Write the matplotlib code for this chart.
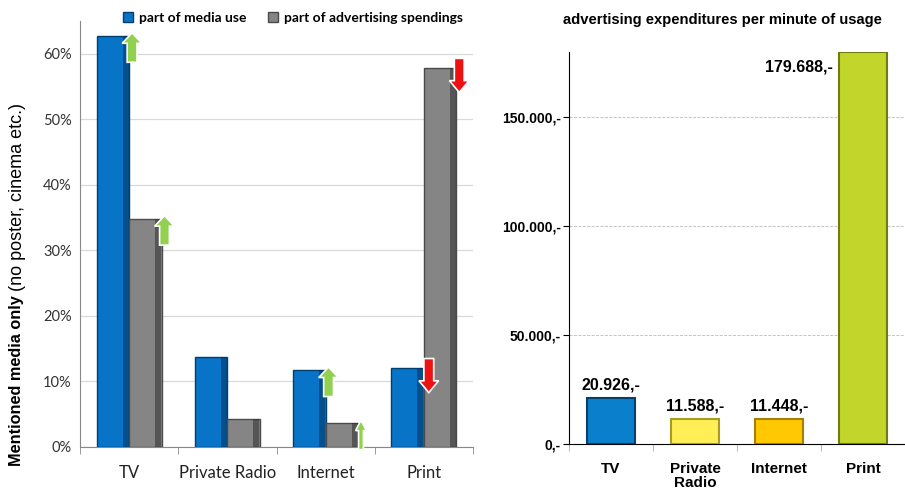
import numpy as np
import matplotlib
matplotlib.use("Agg")
import matplotlib.pyplot as plt
from matplotlib.patches import FancyArrow, Patch

# ---- data -------------------------------------------------------------
media = ["TV", "Private Radio", "Internet", "Print"]
media_use = [0.627, 0.138, 0.117, 0.120]        # part of media use
ad_spend = [0.348, 0.042, 0.036, 0.578]         # part of advertising spendings

# trend arrows: (category, series, direction)
trends = [(0, "use", "up"), (0, "spend", "up"), (2, "use", "up"),
          (2, "spend", "up"), (3, "use", "down"), (3, "spend", "down")]

media_right = ["TV", "Private\nRadio", "Internet", "Print"]
per_minute = [20926, 11588, 11448, 179688]
per_minute_labels = ["20.926,-", "11.588,-", "11.448,-", "179.688,-"]
right_ticks = [0, 50000, 100000, 150000]
right_tick_labels = ["0,-", "50.000,-", "100.000,-", "150.000,-"]

blue = "#0874C8"
gray = "#858585"
right_colors = ["#0A80CC", "#FFEE55", "#FFC800", "#C2D52A"]
right_edges = ["#04406A", "#A99A20", "#A67F00", "#6F7B12"]

lfont = ["Lato", "DejaVu Sans"]
rfont = ["Liberation Sans", "DejaVu Sans"]

fig = plt.figure(figsize=(9.05, 4.88), dpi=100)

# ---- left chart -------------------------------------------------------
ax = fig.add_axes([80 / 905, 1 - 447 / 488, 393 / 905, 426 / 488])
x = np.arange(len(media))
w = 0.33
ax.bar(x - w / 2, media_use, w, color=blue, edgecolor="#033E70", linewidth=1.0, zorder=3)
ax.bar(x + w / 2, ad_spend, w, color=gray, edgecolor="#4A4A4A", linewidth=1.0, zorder=3)
# darker right side to hint at the bevelled bars
sh = 0.06
ax.bar(x - sh / 2 - 0.005, media_use, sh, color="#02335E", alpha=0.55, linewidth=0, zorder=4)
ax.bar(x + w - sh / 2 - 0.005, ad_spend, sh, color="#2E2E2E", alpha=0.55, linewidth=0, zorder=4)

ax.set_xlim(-0.5, 3.5)
ax.set_ylim(0, 0.65)
ax.set_yticks(np.arange(0, 0.61, 0.1))
ax.set_yticklabels([f"{int(round(v * 100))}%" for v in np.arange(0, 0.61, 0.1)],
                   family=lfont, fontsize=10.5, color="#333333")
ax.set_xticks(x)
ax.set_xticklabels(media, family=lfont, fontsize=12, color="#222222")
ax.set_xticks(np.arange(-0.5, 3.6, 1), minor=True)
ax.tick_params(axis="x", which="major", length=0, pad=13)
ax.tick_params(axis="x", which="minor", length=5, color="#888888")
ax.tick_params(axis="y", length=0, pad=6)
ax.grid(axis="y", color="#D9D9D9", linewidth=0.9, zorder=0)
for s in ["top", "right"]:
    ax.spines[s].set_visible(False)
ax.spines["left"].set_color("#888888")
ax.spines["bottom"].set_color("#888888")

for cat, series, direction in trends:
    if series == "use":
        val = media_use[cat]
        xc = cat + (0.03 if direction == "up" else 0.05)
    else:
        val = ad_spend[cat]
        xc = cat + 0.36
    narrow = (cat == 2 and series == "spend")
    sw = 0.05 if narrow else 0.1
    hw = 0.11 if narrow else 0.2
    if direction == "up":
        top = val + 0.005
        length = 0.045
        arr = FancyArrow(xc, top - length, 0, length, width=sw, head_width=hw,
                         head_length=0.016, length_includes_head=True,
                         facecolor="#92D050", edgecolor="white", linewidth=1.2,
                         zorder=5, clip_on=False)
    else:
        start = val + 0.015
        length = 0.052
        arr = FancyArrow(xc, start, 0, -length, width=sw, head_width=hw,
                         head_length=0.018, length_includes_head=True,
                         facecolor="#EE1111", edgecolor="white", linewidth=1.2,
                         zorder=5, clip_on=False)
    ax.add_patch(arr)

handles = [Patch(facecolor=blue, edgecolor="#033E70"),
           Patch(facecolor=gray, edgecolor="#4A4A4A")]
fig.legend(handles, ["part of media use", "part of advertising spendings"],
           loc="center", bbox_to_anchor=(293 / 905, 1 - 18 / 488), ncol=2,
           frameon=False, handlelength=0.7, handleheight=0.7, handletextpad=0.4,
           columnspacing=1.6, prop={"family": lfont, "weight": "bold", "size": 10})

yl1 = fig.text(17 / 905, 1 - 466 / 488, "Mentioned media only", rotation=90,
               ha="center", va="bottom", family=rfont, fontsize=11.7, weight="bold")
fig.canvas.draw()
bb = yl1.get_window_extent()
fig.text(17 / 905, (bb.y1 + 4) / fig.bbox.height, "(no poster, cinema etc.)",
         rotation=90, ha="center", va="bottom", family=rfont, fontsize=13)

# ---- right chart ------------------------------------------------------
ax2 = fig.add_axes([569 / 905, 1 - 444 / 488, 336 / 905, 392 / 488])
xr = np.arange(len(media_right))
bw = 0.57
ax2.bar(xr, per_minute, bw, color=right_colors, edgecolor=right_edges,
        linewidth=1.5, zorder=3)
ax2.set_xlim(-0.5, 3.5)
ax2.set_ylim(0, 179688)
ax2.set_yticks(right_ticks)
ax2.set_yticklabels(right_tick_labels, family=rfont, fontsize=10, weight="bold")
ax2.set_xticks(xr)
ax2.set_xticklabels(media_right, family=rfont, fontsize=11, weight="bold",
                    linespacing=0.95, va="top")
ax2.set_xticks(np.arange(-0.5, 3.6, 1), minor=True)
ax2.tick_params(axis="x", which="major", length=0, pad=13)
ax2.tick_params(axis="x", which="minor", length=5, color="#AAAAAA")
ax2.tick_params(axis="y", length=4, width=0.8, pad=2)
ax2.grid(axis="y", color="#BBBBBB", linestyle="--", linewidth=0.6, zorder=0)
for s in ["top", "right"]:
    ax2.spines[s].set_visible(False)

for i, (v, lab) in enumerate(zip(per_minute, per_minute_labels)):
    if i == 3:
        ax2.text(i - bw / 2 - 0.07, v - 7000, lab, ha="right", va="center",
                 family=rfont, fontsize=11.5, weight="bold")
    else:
        ax2.annotate(lab, (i, v), xytext=(0, 4), textcoords="offset points",
                     ha="center", va="bottom", family=rfont, fontsize=11.5,
                     weight="bold")

fig.text(722 / 905, 1 - 20 / 488, "advertising expenditures per minute of usage",
         ha="center", va="center", family=rfont, fontsize=10.6, weight="bold")

fig.savefig("out.png", dpi=100)
